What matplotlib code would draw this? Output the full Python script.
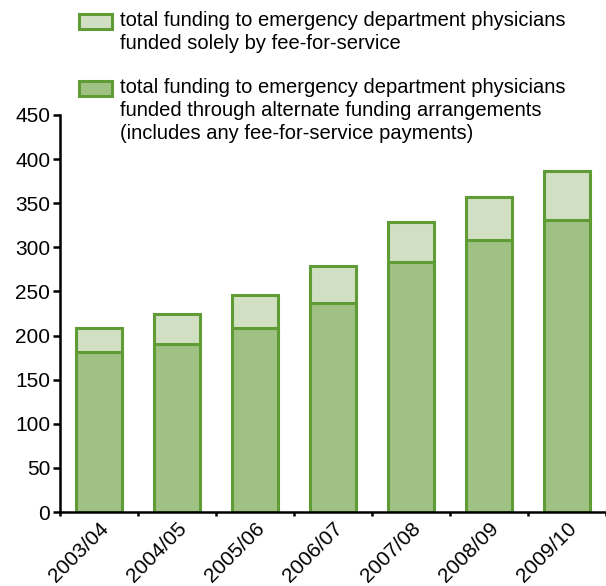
import matplotlib.pyplot as plt
from matplotlib.patches import Rectangle
import numpy as np

# Funding to emergency department physicians ($ millions)
years = ['2003/04', '2004/05', '2005/06', '2006/07', '2007/08', '2008/09', '2009/10']
afa = np.array([181, 190, 209, 237, 283, 308, 331])   # alternate funding arrangements
ffs = np.array([28, 34, 37, 42, 46, 49, 56])          # fee-for-service only

label_ffs = 'total funding to emergency department physicians\nfunded solely by fee-for-service'
label_afa = ('total funding to emergency department physicians\n'
             'funded through alternate funding arrangements\n'
             '(includes any fee-for-service payments)')

light = '#d1dfc2'
dark = '#9fc284'
edge = '#5f9c35'

plt.rcParams['font.family'] = ['Liberation Sans', 'DejaVu Sans']

fig = plt.figure(figsize=(6.06, 5.86), dpi=100)
W, H = 606, 586
ax = fig.add_axes([60 / W, 74 / H, (W - 60) / W, (512 - 115) / H])

x = np.arange(len(years))
ax.bar(x, afa, width=0.59, color=dark, edgecolor=edge, linewidth=2.2, zorder=2)
ax.bar(x, ffs, bottom=afa, width=0.59, color=light, edgecolor=edge, linewidth=2.2, zorder=2)

ax.set_xlim(-0.5, 6.35)
ax.set_ylim(0, 450)
ax.set_yticks(range(0, 451, 50))
ax.tick_params(axis='y', labelsize=15, length=5, width=1.8, pad=2)

ax.set_xticks(x)
ax.set_xticklabels(years, rotation=45, ha='right', rotation_mode='anchor', fontsize=15)
ax.tick_params(axis='x', which='major', length=0, pad=5)
ax.set_xticks(np.arange(-0.5, 7, 1), minor=True)
ax.tick_params(axis='x', which='minor', length=3, width=1.8)

for s in ['top', 'right']:
    ax.spines[s].set_visible(False)
for s in ['left', 'bottom']:
    ax.spines[s].set_linewidth(1.8)

# legend drawn by hand so the swatch sits on the first line
for (ytop, color, text) in [(14, light, label_ffs), (81, dark, label_afa)]:
    fig.add_artist(Rectangle((79 / W, 1 - (ytop + 15) / H), 33 / W, 15 / H,
                             transform=fig.transFigure, facecolor=color,
                             edgecolor=edge, linewidth=2.2))
    fig.text(120 / W, 1 - (ytop - 3) / H, text, fontsize=14.5, va='top',
             ha='left', linespacing=1.28)

fig.savefig('out.png', dpi=100)
